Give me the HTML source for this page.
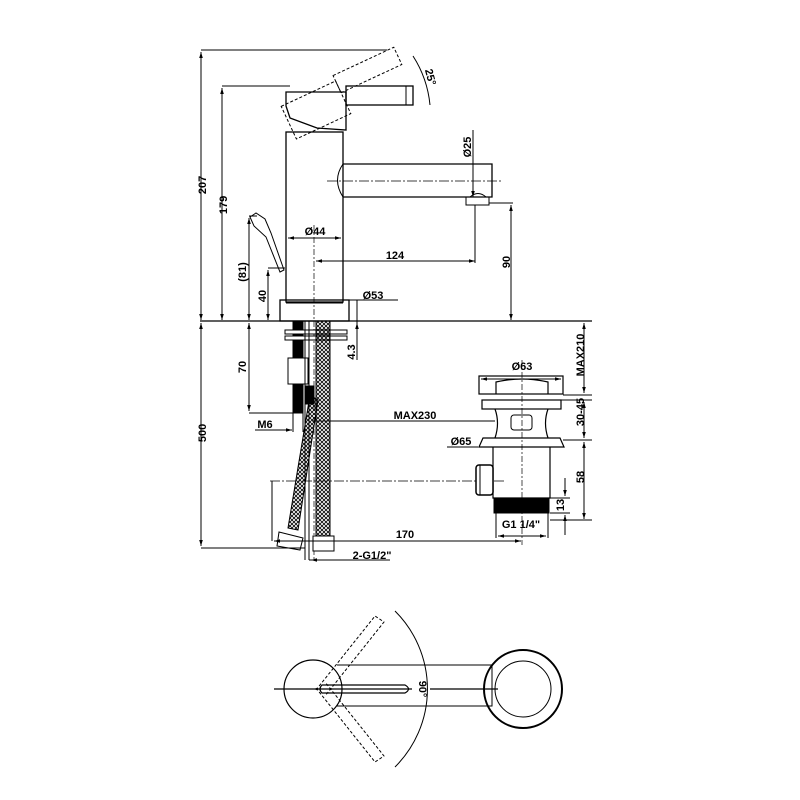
<!DOCTYPE html>
<html><head><style>body{margin:0;background:#fff}svg{display:block}text{font-family:"Liberation Sans",sans-serif;font-weight:bold;font-size:11px;fill:#000}</style></head>
<body>
<svg width="800" height="800" viewBox="0 0 800 800" xmlns="http://www.w3.org/2000/svg">
<defs>
<pattern id="mesh" width="4" height="4" patternUnits="userSpaceOnUse"><path d="M0 0L4 4M4 0L0 4" stroke="#000" stroke-width="0.8"/></pattern>
<marker id="a" viewBox="0 0 10 10" refX="10" refY="5" markerWidth="6" markerHeight="6" orient="auto-start-reverse"><path d="M0 2L10 5L0 8z"/></marker>
</defs>
<g fill="none" stroke="#000" stroke-width="1">
<!-- ground -->
<line x1="200" y1="321" x2="592" y2="321" stroke-width="1.2"/>
<!-- body -->
<rect x="286" y="132" width="57" height="170" stroke-width="1.3"/>
<rect x="280" y="300" width="69" height="21" stroke-width="1.3"/>
<line x1="286" y1="303" x2="343" y2="303"/>
<!-- head -->
<path d="M286 92L346 92L346 130L317 128L290 118L286 106Z" stroke-width="1.3"/>
<rect x="346" y="86" width="67" height="19" stroke-width="1.3"/>
<line x1="406" y1="86" x2="406" y2="105"/>
<g stroke-dasharray="3,2" transform="rotate(-25 316 110)"><rect x="286" y="92" width="60" height="36"/><rect x="346" y="86" width="67" height="19"/></g>
<path d="M413 56 A110 110 0 0 1 430 105"/>
<!-- spout -->
<path d="M343 164L492 164L492 197L343 197" stroke-width="1.3"/>
<path d="M343 164Q332 180 343 197"/>
<line x1="327" y1="181" x2="503" y2="181" stroke-dasharray="10,2,2,2" stroke-width="0.7"/>
<path d="M466 197L466 205L489 205L489 197M470 197Q478 190 486 197"/>
<!-- small lever -->
<path d="M250 217L256 213L265 219L271 233L284 270L280 272L266 237L254 226Z"/>
<!-- dims top -->
<line x1="201" y1="50" x2="387" y2="50"/><line x1="201" y1="52" x2="201" y2="320" marker-start="url(#a)" marker-end="url(#a)"/>
<line x1="222" y1="86" x2="290" y2="86"/><line x1="222" y1="88" x2="222" y2="320" marker-start="url(#a)" marker-end="url(#a)"/>
<line x1="249" y1="216" x2="257" y2="216"/><line x1="249" y1="218" x2="249" y2="320" marker-start="url(#a)" marker-end="url(#a)"/>
<line x1="268" y1="268" x2="285" y2="268"/><line x1="268" y1="270" x2="268" y2="320" marker-start="url(#a)" marker-end="url(#a)"/>
<line x1="288" y1="238" x2="341" y2="238" marker-start="url(#a)" marker-end="url(#a)"/>
<line x1="314" y1="225" x2="314" y2="560" stroke-dasharray="6,2,2,2" stroke-width="0.7"/>
<line x1="316" y1="261" x2="475" y2="261" marker-start="url(#a)" marker-end="url(#a)"/>
<line x1="475" y1="205" x2="475" y2="263"/>
<line x1="489" y1="203" x2="513" y2="203"/><line x1="511" y1="205" x2="511" y2="320" marker-start="url(#a)" marker-end="url(#a)"/>
<line x1="473" y1="130" x2="473" y2="197" marker-end="url(#a)"/>
<line x1="349" y1="300" x2="398" y2="300"/><line x1="357" y1="300" x2="357" y2="360"/>
<!-- under counter -->
<rect x="293" y="321" width="10" height="92" fill="#000"/>
<rect x="288" y="358" width="20" height="26" fill="#fff"/>
<rect x="285" y="330" width="62" height="4" fill="#fff"/><rect x="285" y="336" width="62" height="4" fill="#fff"/>
<rect x="316" y="321" width="14" height="215" fill="url(#mesh)"/>
<path d="M310 395L318 400L298 530L288 528Z" fill="url(#mesh)"/>
<rect x="306" y="386" width="8" height="18" fill="#000"/>
<path d="M279 532L303 538L300 550L277 546Z" fill="#fff"/><rect x="313" y="536" width="21" height="15" fill="#fff"/>
<line x1="305" y1="321" x2="305" y2="560"/><line x1="309" y1="321" x2="309" y2="560"/>
<line x1="249" y1="413" x2="293" y2="413"/><line x1="249" y1="323" x2="249" y2="411" marker-start="url(#a)" marker-end="url(#a)"/>
<line x1="357" y1="323" x2="357" y2="340" marker-start="url(#a)"/>
<line x1="255" y1="430" x2="292" y2="430" marker-end="url(#a)"/><line x1="293" y1="413" x2="293" y2="432"/><line x1="303" y1="413" x2="303" y2="432"/>
<line x1="312" y1="421" x2="495" y2="421"/>
<line x1="201" y1="323" x2="201" y2="546" marker-start="url(#a)" marker-end="url(#a)"/>
<line x1="201" y1="548" x2="305" y2="548"/>
<line x1="270" y1="481" x2="505" y2="481" stroke-dasharray="10,2,2,2" stroke-width="0.7"/>
<line x1="272" y1="481" x2="272" y2="541"/>
<line x1="274" y1="541" x2="521" y2="541" marker-start="url(#a)" marker-end="url(#a)"/>
<line x1="309" y1="560" x2="390" y2="560"/><line x1="311" y1="560" x2="313" y2="560" marker-start="url(#a)"/>
<!-- waste -->
<rect x="479" y="376" width="84" height="18" stroke-width="1.2"/>
<path d="M496 394L496 382Q522 376 548 382L548 394" stroke-width="1.2"/>
<rect x="482" y="400" width="79" height="9" stroke-width="1.2"/>
<path d="M495 409Q500 423 495 438M548 409Q543 423 548 438" stroke-width="1.2"/>
<rect x="511" y="415" width="21" height="15" rx="3"/>
<path d="M479 447L483 438L560 438L564 447Z" stroke-width="1.2"/>
<path d="M493 447L493 498L550 498L550 447" stroke-width="1.2"/>
<rect x="494" y="498" width="55" height="15" fill="#000"/>
<rect x="476" y="465" width="17" height="30" rx="3" fill="#fff" stroke-width="1.5"/>
<line x1="480" y1="465" x2="480" y2="495"/>
<line x1="522" y1="360" x2="522" y2="545" stroke-dasharray="6,2,2,2" stroke-width="0.7"/>
<line x1="496" y1="513" x2="496" y2="538"/><line x1="548" y1="513" x2="548" y2="538"/>
<line x1="498" y1="536" x2="546" y2="536" marker-start="url(#a)" marker-end="url(#a)"/>
<line x1="481" y1="379" x2="561" y2="379" marker-start="url(#a)" marker-end="url(#a)"/>
<line x1="563" y1="395" x2="592" y2="395"/><line x1="561" y1="400" x2="592" y2="400"/><line x1="563" y1="440" x2="592" y2="440"/>
<line x1="584" y1="323" x2="584" y2="393" marker-start="url(#a)" marker-end="url(#a)"/>
<line x1="584" y1="402" x2="584" y2="438" marker-start="url(#a)" marker-end="url(#a)"/>
<line x1="584" y1="442" x2="584" y2="519" marker-start="url(#a)" marker-end="url(#a)"/>
<line x1="550" y1="520" x2="592" y2="520"/><line x1="550" y1="498" x2="570" y2="498"/><line x1="550" y1="513" x2="570" y2="513"/>
<line x1="565" y1="478" x2="565" y2="496" marker-end="url(#a)"/><line x1="565" y1="515" x2="565" y2="535" marker-start="url(#a)"/>
<line x1="447" y1="447" x2="478" y2="447"/>
<!-- top view -->
<circle cx="313" cy="689" r="29" stroke-width="1.2"/>
<path d="M337 665L492 665L492 706L337 706" stroke-width="1"/>
<circle cx="523" cy="689" r="39" stroke-width="2"/><circle cx="523" cy="689" r="28"/>
<path d="M395 611A110 110 0 0 1 395 767"/>
<path d="M322 685L405 685Q412 689 405 693L322 693Q318 689 322 685Z" stroke-width="1.2"/>
<line x1="274" y1="689" x2="412" y2="689" stroke-width="1.2"/><line x1="430" y1="689" x2="498" y2="689" stroke-width="1.2"/>
<g stroke-dasharray="3,2"><path d="M316 690L375 616L384 622L325 696" transform="rotate(0)"/><path d="M316 688L375 762L384 756L325 682"/></g>
</g>
<g>
<text transform="translate(206,185) rotate(-90)" text-anchor="middle">207</text>
<text transform="translate(227,205) rotate(-90)" text-anchor="middle">179</text>
<text transform="translate(246,272) rotate(-90)" text-anchor="middle" font-size="10">(81)</text>
<text transform="translate(266,296) rotate(-90)" text-anchor="middle">40</text>
<text x="315" y="235" text-anchor="middle">Ø44</text>
<text x="395" y="259" text-anchor="middle">124</text>
<text transform="translate(510,262) rotate(-90)" text-anchor="middle">90</text>
<text transform="translate(471,147) rotate(-90)" text-anchor="middle">Ø25</text>
<text x="373" y="299" text-anchor="middle">Ø53</text>
<text transform="translate(427,78) rotate(75)" text-anchor="middle" font-weight="normal">25°</text>
<text transform="translate(355,352) rotate(-90)" text-anchor="middle">4.3</text>
<text transform="translate(246,367) rotate(-90)" text-anchor="middle">70</text>
<text x="265" y="428" text-anchor="middle">M6</text>
<text x="415" y="419" text-anchor="middle">MAX230</text>
<text transform="translate(206,433) rotate(-90)" text-anchor="middle">500</text>
<text x="461" y="445" text-anchor="middle">Ø65</text>
<text x="522" y="370" text-anchor="middle">Ø63</text>
<text transform="translate(584,355) rotate(-90)" text-anchor="middle">MAX210</text>
<text transform="translate(584,412) rotate(-90)" text-anchor="middle">30-45</text>
<text transform="translate(584,477) rotate(-90)" text-anchor="middle">58</text>
<text transform="translate(564,505) rotate(-90)" text-anchor="middle">13</text>
<text x="521" y="528" text-anchor="middle">G1 1/4"</text>
<text x="405" y="538" text-anchor="middle">170</text>
<text x="372" y="559" text-anchor="middle">2-G1/2"</text>
<text transform="translate(419,689) rotate(90)" text-anchor="middle" font-weight="normal">90°</text>
</g>
</svg>
</body></html>
